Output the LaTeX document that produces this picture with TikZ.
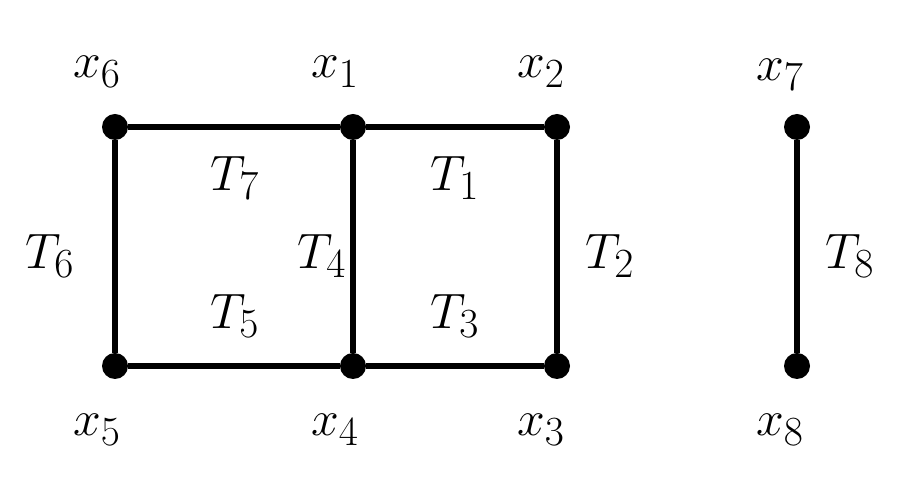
\documentclass[tikz,border=0pt]{standalone}
\begin{document}
\begin{tikzpicture}[x=0.5pt,y=-0.5pt,
  dot/.style={circle,fill=black,inner sep=0pt,minimum size=13pt},
  lbl/.style={font=\fontsize{30}{33}\selectfont},
  edge/.style={line width=2.6pt}]
\useasboundingbox (0,0) rectangle (917,496);
\node[dot] (x6) at (115,127) {};
\node[dot] (x1) at (353,127) {};
\node[dot] (x2) at (557,127) {};
\node[dot] (x7) at (797,127) {};
\node[dot] (x5) at (115,366) {};
\node[dot] (x4) at (353,366) {};
\node[dot] (x3) at (557,366) {};
\node[dot] (x8) at (797,366) {};
\draw[edge] (x6)--(x1)--(x2)--(x3)--(x4)--(x5)--(x6);
\draw[edge] (x1)--(x4);
\draw[edge] (x7)--(x8);
\node[lbl] (l6) at (97,72) {$x_6$};
\node[lbl] (l1) at (335,72) {$x_1$};
\node[lbl] (l2) at (541,72) {$x_2$};
\node[lbl] (l7) at (780,75) {$x_7$};
\node[lbl] (l5) at (97,430) {$x_5$};
\node[lbl] (l4) at (335,430) {$x_4$};
\node[lbl] (l3) at (541,430) {$x_3$};
\node[lbl] (l8) at (780,430) {$x_8$};
\node[lbl] (t7) at (235,178) {$T_7$};
\node[lbl] (t1) at (455,178) {$T_1$};
\node[lbl] (t6) at (50,256) {$T_6$};
\node[lbl] (t4) at (322,256) {$T_4$};
\node[lbl] (t2) at (610,256) {$T_2$};
\node[lbl] (t8) at (850,256) {$T_8$};
\node[lbl] (t5) at (235,316) {$T_5$};
\node[lbl] (t3) at (455,316) {$T_3$};
\end{tikzpicture}
\end{document}
